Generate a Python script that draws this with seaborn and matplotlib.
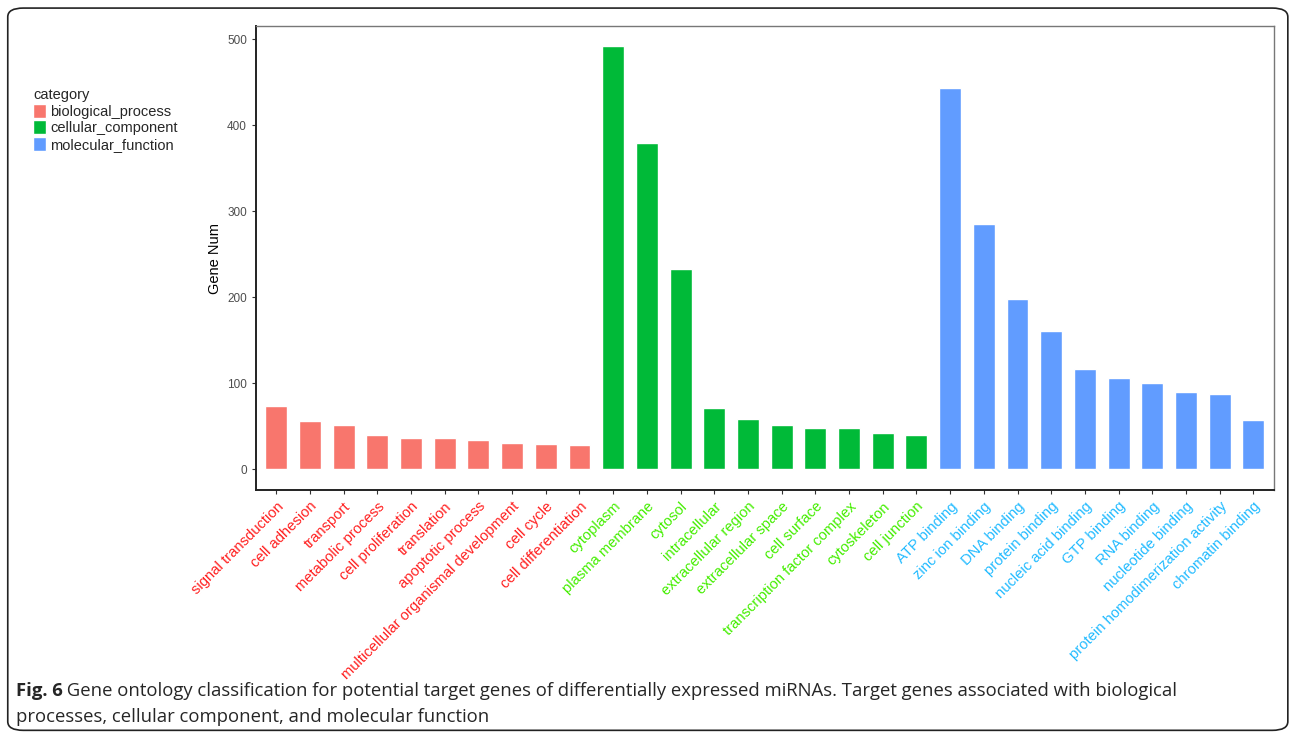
import matplotlib
matplotlib.use('Agg')
import matplotlib.pyplot as plt
import seaborn as sns
import pandas as pd
from matplotlib.patches import FancyBboxPatch

# GO terms and gene counts
bp_terms = ["signal transduction", "cell adhesion", "transport", "metabolic process",
            "cell proliferation", "translation", "apoptotic process",
            "multicellular organismal development", "cell cycle", "cell differentiation"]
bp_counts = [73, 56, 52, 40, 36, 36, 34, 30, 29, 28]

cc_terms = ["cytoplasm", "plasma membrane", "cytosol", "intracellular", "extracellular region",
            "extracellular space", "cell surface", "transcription factor complex",
            "cytoskeleton", "cell junction"]
cc_counts = [492, 379, 233, 71, 58, 52, 48, 48, 42, 40]

mf_terms = ["ATP binding", "zinc ion binding", "DNA binding", "protein binding",
            "nucleic acid binding", "GTP binding", "RNA binding", "nucleotide binding",
            "protein homodimerization activity", "chromatin binding"]
mf_counts = [443, 285, 198, 161, 117, 106, 100, 90, 87, 57]

categories = ["biological_process", "cellular_component", "molecular_function"]
bar_colors = ["#F8766D", "#00BA38", "#619CFF"]
label_colors = ["#FF2020", "#44EE00", "#22BBFF"]

df = pd.DataFrame({
    "term": bp_terms + cc_terms + mf_terms,
    "count": bp_counts + cc_counts + mf_counts,
    "category": [categories[0]] * len(bp_terms) + [categories[1]] * len(cc_terms)
                + [categories[2]] * len(mf_terms),
})

sns.set_theme(style="white")
plt.rcParams['font.family'] = ['Liberation Sans', 'DejaVu Sans']

fig = plt.figure(figsize=(12.93, 7.34), dpi=100)
ax = fig.add_axes([0.198, 0.332, 0.787, 0.633])

sns.barplot(data=df, x="term", y="count", hue="category", hue_order=categories,
            palette=bar_colors, dodge=False, width=0.65, saturation=1, ax=ax)

ax.set_ylim(-24.5, 516)
ax.set_xlim(-0.6, len(df) - 0.4)
ax.set_yticks([0, 100, 200, 300, 400, 500])
ax.tick_params(axis='y', labelsize=8.5, labelcolor="#4d4d4d", length=3, width=0.8,
               left=True, color="#333333")
ax.tick_params(axis='x', length=3, width=0.8, bottom=True, color="#333333")
ax.set_xlabel("")
ax.set_ylabel("Gene Num", fontsize=10.5, color="black")

ax.set_xticks(range(len(df)))
ax.set_xticklabels(df["term"], rotation=45, ha="right", rotation_mode="anchor",
                   fontsize=10.6)
cat_color = dict(zip(categories, label_colors))
for lbl, cat in zip(ax.get_xticklabels(), df["category"]):
    lbl.set_color(cat_color[cat])

for side in ["left", "bottom"]:
    ax.spines[side].set_color("#222222")
    ax.spines[side].set_linewidth(1.4)
for side in ["top", "right"]:
    ax.spines[side].set_color("#777777")
    ax.spines[side].set_linewidth(1.0)

leg = ax.legend(title="category", loc="upper left", bbox_to_anchor=(0.021, 0.888),
                bbox_transform=fig.transFigure, frameon=False, fontsize=10.5,
                title_fontsize=10.5, handlelength=0.9, handleheight=1.1,
                handletextpad=0.3, labelspacing=0.12, borderaxespad=0)
leg._legend_box.align = "left"

# caption
cap_font = ['Open Sans', 'DejaVu Sans']
t1 = fig.text(0.012, 0.052, "Fig. 6", fontsize=13.3, fontweight="bold", family=cap_font)
ax.annotate(" Gene ontology classification for potential target genes of differentially "
            "expressed miRNAs. Target genes associated with biological",
            xy=(1, 0), xycoords=t1, va="bottom", ha="left", fontsize=13.3,
            family=cap_font, annotation_clip=False)
fig.text(0.012, 0.017, "processes, cellular component, and molecular function",
         fontsize=13.3, family=cap_font)

frame = FancyBboxPatch((0.006, 0.005), 0.99, 0.984, boxstyle="round,pad=0,rounding_size=0.012",
                       transform=fig.transFigure, fill=False, edgecolor="#222222",
                       linewidth=1.2)
fig.patches.append(frame)

fig.savefig("out.png", dpi=100)
